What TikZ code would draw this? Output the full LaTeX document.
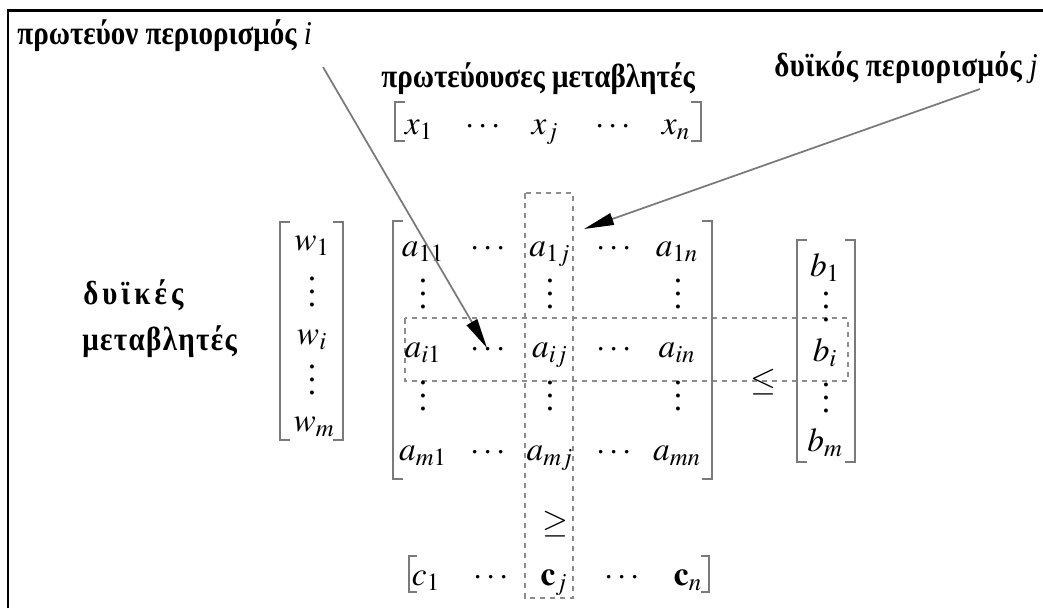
\documentclass[tikz,border=0pt]{standalone}
\usepackage{mathptmx}
\usepackage{fontspec}
\setmainfont{Liberation Serif}
\newfontfamily\lblfont[FakeStretch=0.87]{Liberation Serif}
\usetikzlibrary{arrows.meta}
\definecolor{rule}{HTML}{7A7A7A}
\definecolor{dash}{HTML}{8C8C8C}
% three stacked dots with a chosen spacing
\newcommand\stackdots[1]{\vbox{\baselineskip=#1\lineskiplimit=0pt\hbox{.}\hbox{.}\hbox{.}}}
\tikzset{
  lbl/.style={inner sep=0pt, font=\lblfont\bfseries\fontsize{19}{22}\selectfont},
  mth/.style={inner sep=0pt, anchor=base, font=\fontsize{19}{22}\selectfont},
  dts/.style={inner sep=0pt, font=\fontsize{19}{22}\selectfont},
  brk/.style={draw=rule, line width=0.05cm},
  dbox/.style={draw=dash, line width=0.045cm, dash pattern=on 0.11cm off 0.09cm},
  ptr/.style={draw=rule, line width=0.035cm,
    -{Triangle[length=0.6cm,width=0.24cm,fill=black,color=black]}},
}
\begin{document}
\begin{tikzpicture}[x=0.02cm,y=-0.02cm]
\useasboundingbox (0,0) rectangle (1043,608);
% frame
\draw[line width=0.06cm] (8,608) -- (8,11) -- (1043,11);

% labels
\node[lbl, anchor=base west] (prim) at (17,45) {πρωτεύον περιορισμός {\mdseries\itshape i}};
\node[lbl, anchor=base west] (pvars) at (381,88) {πρωτεύουσες μεταβλητές};
\node[lbl, anchor=base west] (dcon) at (774,76) {\addfontfeature{LetterSpace=1.5}δυϊκός περιορισμός {\mdseries\itshape j}};
\node[lbl, anchor=base west] (dv1) at (83,304) {\addfontfeature{LetterSpace=12}δυϊκές};
\node[lbl, anchor=base west] (dv2) at (82,350) {\addfontfeature{LetterSpace=4}μεταβλητές};

% dashed highlight of row i and column j
\draw[dbox] (405,318) rectangle (848,381);
\draw[dbox] (525,193) rectangle (573,598);

% primal variables
\draw[brk] (405,102) -- (395,102) -- (395,141) -- (405,141);
\draw[brk] (691,102) -- (701,102) -- (701,141) -- (691,141);
\node[mth] (x1) at (419,134) {$x_1$};
\node[mth] (xd1) at (483,134) {$\cdots$};
\node[mth] (xj) at (545,134) {$x_j$};
\node[mth] (xd2) at (613,134) {$\cdots$};
\node[mth] (xn) at (676,134) {$x_n$};

% coefficient matrix
\draw[brk] (403,221) -- (393,221) -- (393,479) -- (403,479);
\draw[brk] (702,221) -- (712,221) -- (712,479) -- (702,479);
\node[mth] (a11) at (423,256) {$a_{11}$};
\node[mth] (a1d1) at (488,256) {$\cdots$};
\node[mth] (a1j) at (550,256) {$a_{1j}$};
\node[mth] (a1d2) at (614,256) {$\cdots$};
\node[mth] (a1n) at (677,256) {$a_{1n}$};
\node[dts] (v11) at (423,294) {\stackdots{7.4pt}};
\node[dts] (v1j) at (550,294) {\stackdots{7.4pt}};
\node[dts] (v1n) at (678,294) {\stackdots{7.4pt}};
\node[mth] (ai1) at (423,357) {$a_{i1}$};
\node[mth] (aid1) at (488,357) {$\cdots$};
\node[mth] (aij) at (550,357) {$a_{ij}$};
\node[mth] (aid2) at (614,357) {$\cdots$};
\node[mth] (ain) at (677,357) {$a_{in}$};
\node[dts] (v21) at (423,396) {\stackdots{7.4pt}};
\node[dts] (v2j) at (550,396) {\stackdots{7.4pt}};
\node[dts] (v2n) at (678,396) {\stackdots{7.4pt}};
\node[mth] (am1) at (423,460) {$a_{m1}$};
\node[mth] (amd1) at (488,460) {$\cdots$};
\node[mth] (amj) at (550,460) {$a_{mj}$};
\node[mth] (amd2) at (614,460) {$\cdots$};
\node[mth] (amn) at (677,460) {$a_{mn}$};

% dual variables
\draw[brk] (290,222) -- (280,222) -- (280,440) -- (290,440);
\draw[brk] (333,222) -- (343,222) -- (343,440) -- (333,440);
\node[mth] (w1) at (312,250) {$w_1$};
\node[dts] (wv1) at (312,292) {\stackdots{7.4pt}};
\node[mth] (wi) at (312,344) {$w_i$};
\node[dts] (wv2) at (312,380) {\stackdots{7.4pt}};
\node[mth] (wm) at (314,431) {$w_m$};

% right-hand side
\node[mth] (le) at (763,390) {$\leq$};
\draw[brk] (807,240) -- (797,240) -- (797,462) -- (807,462);
\draw[brk] (845,240) -- (855,240) -- (855,462) -- (845,462);
\node[mth] (b1) at (825,276) {$b_1$};
\node[dts] (bv1) at (826,307) {\stackdots{7.4pt}};
\node[mth] (bi) at (825,361) {$b_i$};
\node[dts] (bv2) at (826,398) {\stackdots{7.4pt}};
\node[mth] (bm) at (825,451) {$b_m$};

% objective coefficients
\node[mth] (ge) at (555,532) {$\geq$};
\draw[brk] (417,556) -- (409,556) -- (409,592) -- (417,592);
\draw[brk] (701,556) -- (709,556) -- (709,592) -- (701,592);
\node[mth] (c1) at (426,585) {$c_1$};
\node[mth] (cd1) at (491,585) {$\cdots$};
\node[mth] (cj) at (554,585) {$\mathbf{c}_j$};
\node[mth] (cd2) at (622,585) {$\cdots$};
\node[mth] (cn) at (688,585) {$\mathbf{c}_n$};

% pointers
\coordinate (p1s) at (323,67);
\coordinate (p1e) at (487,348);
\coordinate (p2s) at (980,89);
\coordinate (p2e) at (584,229);
\draw[ptr] (p1s) -- (p1e);
\draw[ptr] (p2s) -- (p2e);
\end{tikzpicture}
\end{document}
